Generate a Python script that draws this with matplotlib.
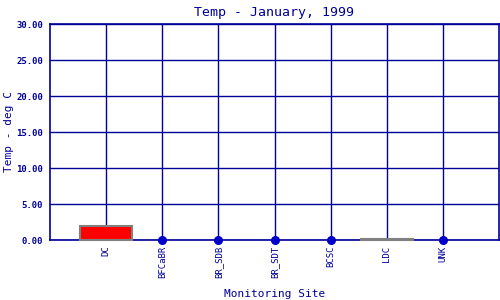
import numpy as np
import matplotlib
matplotlib.use('Agg')
import matplotlib.pyplot as plt

# ---- Data ----
sites = ['DC', 'BFCaBR', 'BR_SDB', 'BR_SDT', 'BCSC', 'LDC', 'UNK']
temps = [1.9, 0.0, 0.0, 0.0, 0.0, 0.1, 0.0]
yticks = [0, 5, 10, 15, 20, 25, 30]

navy = '#000099'
plt.rcParams['font.family'] = 'DejaVu Sans Mono'

fig = plt.figure(figsize=(5, 3), dpi=100)
ax = fig.add_axes([0.1, 0.2, 0.898, 0.72])

x = np.arange(1, len(sites) + 1)
vals = np.array(temps)

# bars for non-zero sites, dots for zero
nz = vals > 0
bars = ax.bar(x[nz], vals[nz], width=0.93, color='red', edgecolor='#808080',
              linewidth=1.5, zorder=3)
for b in bars:
    b.set_clip_on(False)
ax.plot(x[~nz], vals[~nz], 'o', color='#0000cc', markersize=5.5,
        zorder=4, clip_on=False)

ax.set_xlim(0, len(sites) + 1)
ax.set_ylim(0, 30)
ax.set_xticks(x)
ax.set_xticklabels(sites, rotation=90, fontsize=6.5, color=navy)
ax.set_yticks(yticks)
ax.set_yticklabels([f'{v:.2f}' for v in yticks], fontsize=6.5,
                   color=navy, fontweight='bold')
ax.tick_params(axis='y', length=0, pad=5)
ax.tick_params(axis='x', length=0, pad=4)
ax.grid(True, color=navy, linewidth=1)
ax.set_axisbelow(True)
for s in ax.spines.values():
    s.set_color(navy)
    s.set_linewidth(1.2)

ax.set_title('Temp - January, 1999', fontsize=9.5, color=navy, pad=6)
fig.text(0.018, 0.56, 'Temp - deg C', rotation=90, ha='center', va='center',
         fontsize=8, color=navy)
ax.set_xlabel('Monitoring Site', fontsize=8, color=navy, labelpad=8)

fig.savefig('out.png', dpi=100)
